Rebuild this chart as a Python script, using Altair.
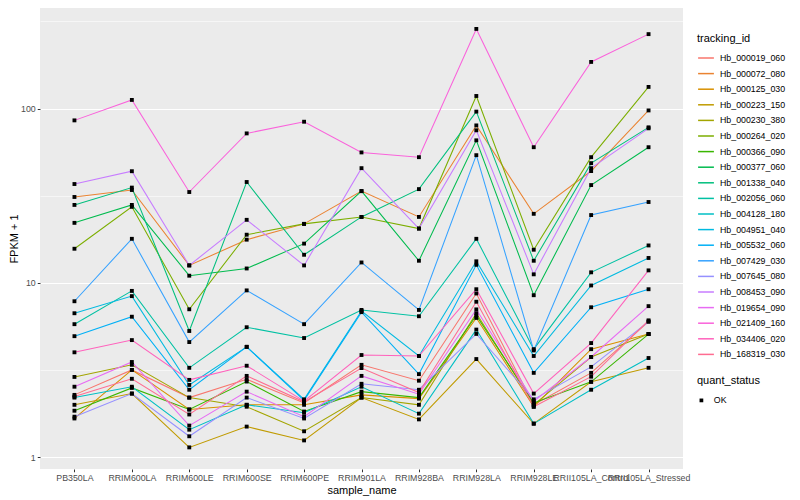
import altair as alt
import pandas as pd

samples = ["PB350LA", "RRIM600LA", "RRIM600LE", "RRIM600SE", "RRIM600PE", "RRIM901LA",
           "RRIM928BA", "RRIM928LA", "RRIM928LE", "RRII105LA_Control", "RRII105LA_Stressed"]

tracking_ids = ["Hb_000019_060", "Hb_000072_080", "Hb_000125_030", "Hb_000223_150",
                "Hb_000230_380", "Hb_000264_020", "Hb_000366_090", "Hb_000377_060",
                "Hb_001338_040", "Hb_002056_060", "Hb_004128_180", "Hb_004951_040",
                "Hb_005532_060", "Hb_007429_030", "Hb_007645_080", "Hb_008453_090",
                "Hb_019654_090", "Hb_021409_160", "Hb_034406_020", "Hb_168319_030"]

Hb_000019_060 = [2.28, 3.17, 2.2, 2.8, 2.05, 3.39, 2.75, 8.7, 2.0, 3.05, 6.0]
Hb_000072_080 = [31.1, 34.1, 12.6, 17.7, 21.8, 33.6, 23.9, 80, 24.9, 43.8, 97.5]
Hb_000125_030 = [1.67, 3.17, 1.88, 2.0, 2.0, 2.28, 2.17, 6.3, 1.95, 4.17, 5.09]
Hb_000223_150 = [2.0, 2.32, 1.14, 1.5, 1.25, 2.2, 1.65, 3.66, 1.56, 2.71, 3.26]
Hb_000230_380 = [2.89, 3.39, 2.2, 1.95, 1.41, 2.2, 2.0, 6.7, 2.0, 3.76, 5.09]
Hb_000264_020 = [15.7, 27.3, 7.06, 18.9, 21.8, 23.9, 20.5, 118, 15.5, 52.6, 133]
Hb_000366_090 = [1.85, 2.5, 1.88, 2.72, 1.83, 2.38, 2.2, 6.5, 2.05, 2.71, 5.09]
Hb_000377_060 = [22.1, 28, 11.0, 12.1, 16.8, 33.6, 13.4, 65.7, 8.5, 36.4, 60]
Hb_001338_040 = [28, 35.2, 5.3, 37.9, 14.5, 23.9, 34.5, 96, 13.4, 48.6, 78]
Hb_002056_060 = [5.8, 9.0, 3.26, 5.57, 4.83, 7.0, 6.44, 17.9, 4.17, 11.5, 16.4]
Hb_004128_180 = [2.2, 2.54, 1.44, 2.0, 1.8, 2.54, 1.78, 5.4, 1.56, 2.44, 3.71]
Hb_004951_040 = [6.7, 8.4, 2.6, 4.3, 2.15, 6.9, 3.81, 13.3, 3.81, 9.67, 13.9]
Hb_005532_060 = [4.95, 6.4, 2.44, 4.3, 2.12, 6.8, 3.0, 12.7, 3.05, 7.25, 9.2]
Hb_007429_030 = [7.85, 17.9, 4.58, 9.06, 5.8, 13.1, 7.0, 54, 4.1, 24.5, 29.1]
Hb_007645_080 = [1.71, 2.32, 1.32, 2.2, 1.67, 2.64, 2.44, 5.1, 2.15, 3.3, 6.0]
Hb_008453_090 = [36.9, 43.7, 12.6, 23.0, 12.6, 45.5, 20.5, 75, 11.2, 45.5, 77]
Hb_019654_090 = [2.54, 3.52, 1.52, 2.38, 1.71, 2.93, 2.3, 7.05, 2.1, 3.76, 7.36]
Hb_021409_160 = [85.5, 112, 33.2, 72, 84, 56, 52.6, 286, 60, 185, 267]
Hb_034406_020 = [4.0, 4.7, 2.78, 3.35, 2.1, 3.86, 3.81, 9.2, 2.32, 4.52, 11.8]
Hb_168319_030 = [2.23, 2.82, 1.76, 2.93, 2.08, 3.25, 2.35, 7.8, 1.95, 2.9, 6.1]

series = [Hb_000019_060, Hb_000072_080, Hb_000125_030, Hb_000223_150, Hb_000230_380,
          Hb_000264_020, Hb_000366_090, Hb_000377_060, Hb_001338_040, Hb_002056_060,
          Hb_004128_180, Hb_004951_040, Hb_005532_060, Hb_007429_030, Hb_007645_080,
          Hb_008453_090, Hb_019654_090, Hb_021409_160, Hb_034406_020, Hb_168319_030]

quant_levels = ["OK"]
y_grid_values = [1, 3.1623, 10, 31.623, 100, 316.23]

hue = ["#F8766D", "#EA8331", "#D89000", "#C09B00", "#A3A500", "#7CAE00", "#39B600",
       "#00BB4E", "#00BF7D", "#00C1A3", "#00BFC4", "#00BAE0", "#00B0F6", "#35A2FF",
       "#9590FF", "#C77CFF", "#E76BF3", "#FA62DB", "#FF62BC", "#FF6C91"]

rows = []
for tid, vals in zip(tracking_ids, series):
    for s, v in zip(samples, vals):
        rows.append({"tracking_id": tid, "sample_name": s, "fpkm1": v, "quant_status": "OK"})
df = pd.DataFrame(rows)

major = "datum.value == 1 || datum.value == 10 || datum.value == 100"

x_enc = alt.X("sample_name:N", sort=samples,
              scale=alt.Scale(type="point", padding=0.6),
              axis=alt.Axis(title="sample_name", labelAngle=0, labelOverlap=False,
                            labelLimit=300, labelFontSize=8.8, labelColor="#4D4D4D",
                            titleFontSize=11, titleFontWeight="normal", titleColor="black",
                            tickColor="#333333", tickSize=2.75, labelPadding=2, titlePadding=2,
                            domain=False, gridColor="white", gridWidth=1.1))

y_enc = alt.Y("fpkm1:Q",
              scale=alt.Scale(type="log", domain=[0.857, 377], nice=False),
              axis=alt.Axis(title="FPKM + 1", values=y_grid_values,
                            labelExpr=f"({major}) ? format(datum.value, 'd') : ''",
                            labelFontSize=8.8, labelColor="#4D4D4D",
                            titleFontSize=11, titleFontWeight="normal", titleColor="black",
                            tickColor="#333333", tickSize=2.75, labelPadding=2, titlePadding=1,
                            tickOpacity={"condition": {"test": major, "value": 1}, "value": 0},
                            domain=False, gridColor="white",
                            gridWidth={"condition": {"test": major, "value": 1.1}, "value": 0.55}))

lines = alt.Chart(df).mark_line(strokeWidth=1.05).encode(
    x=x_enc, y=y_enc,
    color=alt.Color("tracking_id:N", scale=alt.Scale(domain=tracking_ids, range=hue),
                    legend=alt.Legend(title="tracking_id", orient="none", legendX=657, legendY=25,
                                      symbolType="stroke", symbolSize=250, symbolStrokeWidth=1.5,
                                      labelFontSize=8.8, titleFontSize=11, titleFontWeight="normal",
                                      rowPadding=1.6, labelOffset=5, titlePadding=5,
                                      labelColor="black", titleColor="black")),
    detail="tracking_id:N",
)

points = alt.Chart(df).mark_point(filled=True, color="black", size=15, opacity=1).encode(
    x=x_enc, y=y_enc,
    shape=alt.Shape("quant_status:N", scale=alt.Scale(domain=quant_levels, range=["square"]),
                    legend=alt.Legend(title="quant_status", orient="none", legendX=657, legendY=367,
                                      symbolSize=14, symbolFillColor="black", symbolStrokeColor="black",
                                      labelFontSize=8.8, titleFontSize=11, titleFontWeight="normal",
                                      labelOffset=8, titlePadding=10,
                                      labelColor="black", titleColor="black")),
)

chart = alt.layer(lines, points).resolve_legend(color="independent", shape="independent").properties(
    width=643, height=461,
    autosize=alt.AutoSizeParams(type="none"),
    padding={"left": 32, "top": 0, "right": 109, "bottom": 28},
).configure(font="Liberation Sans").configure_view(fill="#EBEBEB", strokeWidth=0)

chart.save("out.html", embed_options={"renderer": "svg", "actions": False})
